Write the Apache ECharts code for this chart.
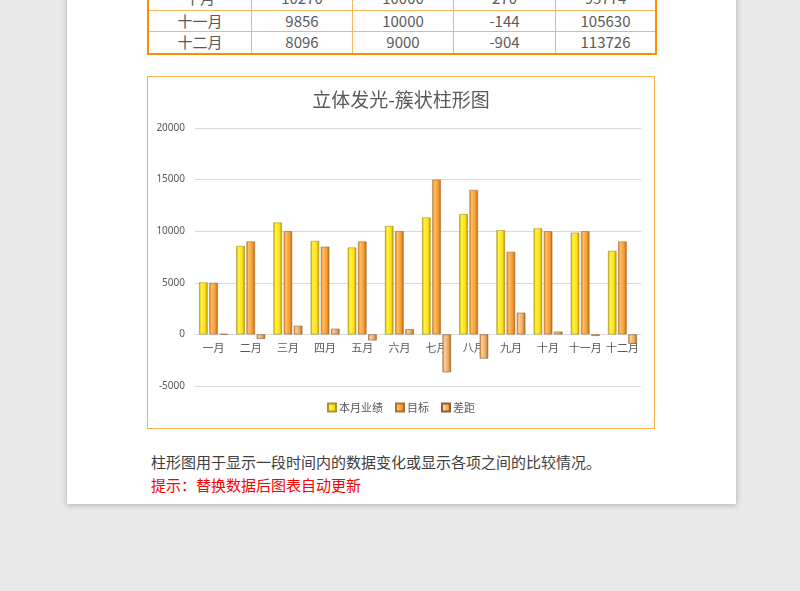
<!DOCTYPE html>
<html><head><meta charset="utf-8">
<script src="https://cdn.jsdelivr.net/npm/echarts@6/dist/echarts.min.js"></script>
<style>
html,body{margin:0;padding:0;width:800px;height:591px;background:#e9e9e9;overflow:hidden;font-family:"Noto Sans CJK SC","Noto Sans",sans-serif;}
#page{position:absolute;left:67px;top:-20px;width:669px;height:524px;background:#fff;box-shadow:0 1px 6px rgba(0,0,0,0.25);}
#tbl{position:absolute;left:147px;top:-12px;width:506px;border:2px solid #ff8c00;border-top:none;}
.row{display:flex;height:21.7px;border-top:1px solid #fbb463;box-sizing:border-box;}
.cell{flex:none;text-align:center;font-size:15px;color:#595959;line-height:20px;border-left:1px solid #fbb463;box-sizing:border-box;}
.cell:first-child{border-left:none;}
#chartbox{position:absolute;left:147px;top:76px;width:506px;height:351px;border:1.5px solid #fbb04e;}
#chart{width:506px;height:351px;}
#t1{position:absolute;left:151px;top:451px;font-size:15px;color:#404040;}
#t2{position:absolute;left:151px;top:474px;font-size:15px;color:#ff0000;}
</style></head>
<body>
<div id="page"></div>
<div id="tbl"></div>
<div id="chartbox"><div id="chart"></div></div>
<div id="t1">柱形图用于显示一段时间内的数据变化或显示各项之间的比较情况。</div>
<div id="t2">提示：替换数据后图表自动更新</div>
<script>
const months = ['一月','二月','三月','四月','五月','六月','七月','八月','九月','十月','十一月','十二月'];
const actual = [5034, 8570, 10840, 9050, 8420, 10500, 11330, 11660, 10100, 10270, 9856, 8096];
const target = [5000, 9000, 10000, 8500, 9000, 10000, 15000, 14000, 8000, 10000, 10000, 9000];
const gap = [34, -430, 840, 550, -580, 500, -3670, -2340, 2100, 270, -144, -904];
const seriesNames = ['本月业绩','目标','差距'];
const yTicks = [-5000, 0, 5000, 10000, 15000, 20000];
const tableRows = [9, 10, 11];

// table (last rows visible)
const tbl = document.getElementById('tbl');
const widths = [102, 101, 101, 102, 100];
let cum = [];
actual.reduce((s, v, i) => (cum[i] = s + v), 0);
tableRows.forEach((i, k) => {
  const r = document.createElement('div');
  r.className = 'row';
  if (k === 0) r.style.borderTop = 'none';
  [months[i], actual[i], target[i], gap[i], cum[i]].forEach((v, j) => {
    const c = document.createElement('div');
    c.className = 'cell';
    c.style.width = widths[j] + 'px';
    c.textContent = v;
    r.appendChild(c);
  });
  tbl.appendChild(r);
});

function grad(stops) {
  return new echarts.graphic.LinearGradient(0, 0, 1, 0, stops.map((c, i) => ({offset: [0, 0.25, 0.7, 1][i], color: c})));
}
const styles = [
  {color: grad(['#c9a000', '#fff53a', '#ffe01a', '#b88f00']), borderColor: '#a8902a'},
  {color: grad(['#d8781c', '#ffc060', '#f59a30', '#b8620e']), borderColor: '#a87038'},
  {color: grad(['#c8843e', '#ffcf98', '#eaa458', '#a86a2c']), borderColor: '#8c6034'}
];
const data = [actual, target, gap];
const yMin = yTicks[0], yMax = yTicks[yTicks.length - 1];
const gridTop = 51, gridBottom = 42, chartH = 351;
const gridH = chartH - gridTop - gridBottom;
const zeroOffset = -gridH * (0 - yMin) / (yMax - yMin);
const chart = echarts.init(document.getElementById('chart'));
chart.setOption({
  animation: false,
  title: {text: '立体发光-簇状柱形图', left: 'center', top: 8,
    textStyle: {fontSize: 19, fontWeight: 'normal', color: '#595959', fontFamily: 'Noto Sans CJK SC'}},
  legend: {bottom: 10, left: 'center', itemWidth: 8, itemHeight: 8, itemGap: 12, icon: 'rect',
    textStyle: {fontSize: 11, color: '#595959', fontFamily: 'Noto Sans CJK SC', padding: [0, 0, 0, -2]},
    data: seriesNames},
  grid: {left: 47, right: 13, top: gridTop, bottom: gridBottom, containLabel: false},
  xAxis: {type: 'category', data: months, position: 'bottom', offset: zeroOffset,
    axisLine: {onZero: false, lineStyle: {color: '#d9d9d9'}}, axisTick: {show: false},
    axisLabel: {color: '#595959', fontSize: 11, margin: 8, interval: 0, fontFamily: 'Noto Sans CJK SC'}},
  yAxis: {type: 'value', min: yMin, max: yMax, interval: 5000,
    axisLine: {show: false}, axisTick: {show: false},
    splitLine: {lineStyle: {color: '#d9d9d9'}},
    axisLabel: {color: '#595959', fontSize: 10, margin: 10, fontFamily: 'Noto Sans', formatter: v => String(v)}},
  series: seriesNames.map((n, i) => ({
    name: n, type: 'bar', data: data[i], barWidth: 8.5, barGap: '20%',
    itemStyle: {color: styles[i].color, borderColor: styles[i].borderColor, borderWidth: 0.6}
  }))
});
</script>
</body></html>
